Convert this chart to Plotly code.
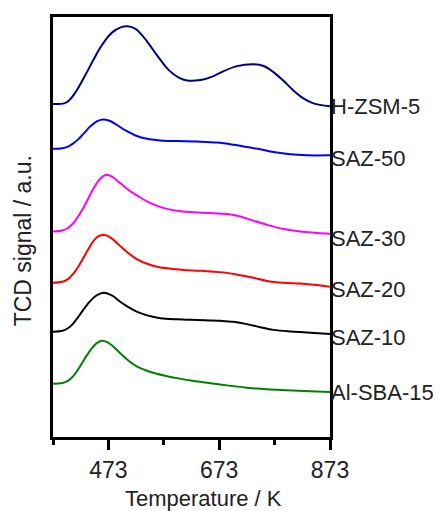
import plotly.graph_objects as go

# Temperatures (K) and TCD signal (a.u.)
t_hzsm5 = [373, 393, 402, 411, 420, 429, 438, 447, 456, 468, 480, 495, 508, 522, 534,
           546, 558, 570, 582, 600, 615, 639, 663, 681, 705, 735, 753, 771, 789, 807,
           825, 843, 873]
s_hzsm5 = [335.5, 336, 339, 345, 353, 362, 371.5, 381, 390, 400, 407.5, 412.5, 413.7,
           411, 404.5, 396, 386.5, 377.5, 369.5, 362, 359, 359.5, 363.5, 368.5, 373.5,
           375.3, 373.7, 367.5, 358.7, 349, 341, 336, 333]

t_saz50 = [373, 390, 400, 409, 419, 429, 441, 453, 465, 477, 489, 504, 522, 543, 567,
           597, 633, 669, 699, 723, 747, 771, 801, 831, 873]
s_saz50 = [290.3, 290.8, 292.5, 295.5, 300, 306, 313.2, 318.2, 319.7, 318, 314, 308.7,
           303.7, 300.3, 298.7, 298, 297.5, 296.5, 294.3, 292, 289.7, 287, 284.7, 283.7,
           283.7]

t_saz30 = [373, 390, 400, 410, 420, 431, 442, 453, 462, 470, 480, 495, 510, 528, 549,
           573, 603, 633, 654, 687, 711, 735, 759, 789, 819, 873]
s_saz30 = [207, 208, 210.5, 215.5, 223.5, 234, 246, 256.5, 262, 264, 262, 255.5, 248.5,
           242, 235.5, 230.5, 227.3, 226.2, 225.6, 224.5, 222, 217.7, 213.7, 209.5, 207,
           204.7]

t_saz20 = [373, 390, 400, 409, 418, 427, 436, 445, 456, 468, 480, 492, 507, 525, 543,
           561, 585, 609, 633, 651, 687, 711, 735, 759, 789, 819, 849, 873]
s_saz20 = [155.3, 156.3, 159, 164, 171, 179.5, 188.5, 196.5, 202.5, 203.3, 199.5, 193.5,
           186, 179, 174.5, 171.5, 169.5, 168.3, 167.5, 167, 165.3, 163, 160.3, 157.2,
           155.3, 154.5, 153, 151.3]

t_saz10 = [373, 390, 400, 409, 418, 427, 438, 450, 465, 480, 495, 510, 525, 543, 567,
           597, 633, 654, 675, 699, 723, 747, 771, 801, 831, 873]
s_saz10 = [106, 107, 109.5, 114, 120.5, 127.5, 135.5, 142, 145.3, 142.3, 136, 130.5, 126,
           122.5, 119.7, 118.5, 117.8, 117.4, 117, 116, 113.7, 110.5, 107.9, 106.3, 105.3,
           103.7]

t_alsba = [373, 390, 400, 410, 420, 431, 442, 452, 461, 471, 483, 495, 510, 525, 549,
           573, 597, 621, 651, 687, 723, 759, 795, 837, 873]
s_alsba = [53.7, 54.3, 56.5, 61.5, 69.5, 79.5, 88.5, 94.5, 97, 95.5, 90.5, 84, 76.5,
           70.8, 65.5, 62, 59.3, 57, 54.7, 52, 49.7, 48, 47, 46, 45.3]

names = ["H-ZSM-5", "SAZ-50", "SAZ-30", "SAZ-20", "SAZ-10", "Al-SBA-15"]
label_y = [333, 280, 200, 149, 100, 45]
colors = ["#000080", "#0000FF", "#FF00FF", "#FF0000", "#000000", "#008000"]

major_ticks = [473, 673, 873]
minor_ticks = [373, 573, 773]

series = [(t_hzsm5, s_hzsm5), (t_saz50, s_saz50), (t_saz30, s_saz30),
          (t_saz20, s_saz20), (t_saz10, s_saz10), (t_alsba, s_alsba)]

FONT = "Liberation Sans, Arial, sans-serif"
TXT = "#222222"
FS = 23

fig = go.Figure()
for (t, s), name, c in zip(series, names, colors):
    fig.add_trace(go.Scatter(x=t, y=s, mode="lines", name=name,
                             line=dict(color=c, width=2, shape="spline", smoothing=1.0),
                             showlegend=False))

annotations = []
for name, yv in zip(names, label_y):
    annotations.append(dict(x=1, xref="paper", y=yv, yref="y", text=name,
                            xanchor="left", yanchor="middle", showarrow=False,
                            xshift=-1, font=dict(family=FONT, size=22, color=TXT)))
annotations.append(dict(x=-0.105, xref="paper", y=0.468, yref="paper",
                        text="TCD signal / a.u.", textangle=-90, showarrow=False,
                        xanchor="center", yanchor="middle",
                        font=dict(family=FONT, size=FS, color=TXT)))
annotations.append(dict(x=0.543, xref="paper", y=-0.147, yref="paper",
                        text="Temperature / K", showarrow=False,
                        xanchor="center", yanchor="middle",
                        font=dict(family=FONT, size=22, color=TXT)))

# the page body has an 8 px margin, so the figure is 8 px smaller than the window
fig.update_layout(
    width=433, height=503,
    margin=dict(l=45, r=111, t=6, b=74),
    paper_bgcolor="white", plot_bgcolor="white",
    font=dict(family=FONT, size=FS, color=TXT),
    annotations=annotations,
)
fig.update_xaxes(range=[373, 873], showgrid=False, zeroline=False,
                 showline=True, linecolor="black", linewidth=3, mirror=True,
                 tickmode="array", tickvals=major_ticks, ticktext=[str(v) for v in major_ticks],
                 ticks="outside", ticklen=10, tickwidth=3, tickcolor="black",
                 ticklabelstandoff=0,
                 minor=dict(tickvals=minor_ticks, ticks="outside", ticklen=5,
                            tickwidth=3, tickcolor="black"),
                 tickfont=dict(family=FONT, size=FS, color=TXT))
fig.update_yaxes(range=[0, 423], showgrid=False, zeroline=False,
                 showline=True, linecolor="black", linewidth=3, mirror=True,
                 showticklabels=False, ticks="")

fig.write_html("out.html")
